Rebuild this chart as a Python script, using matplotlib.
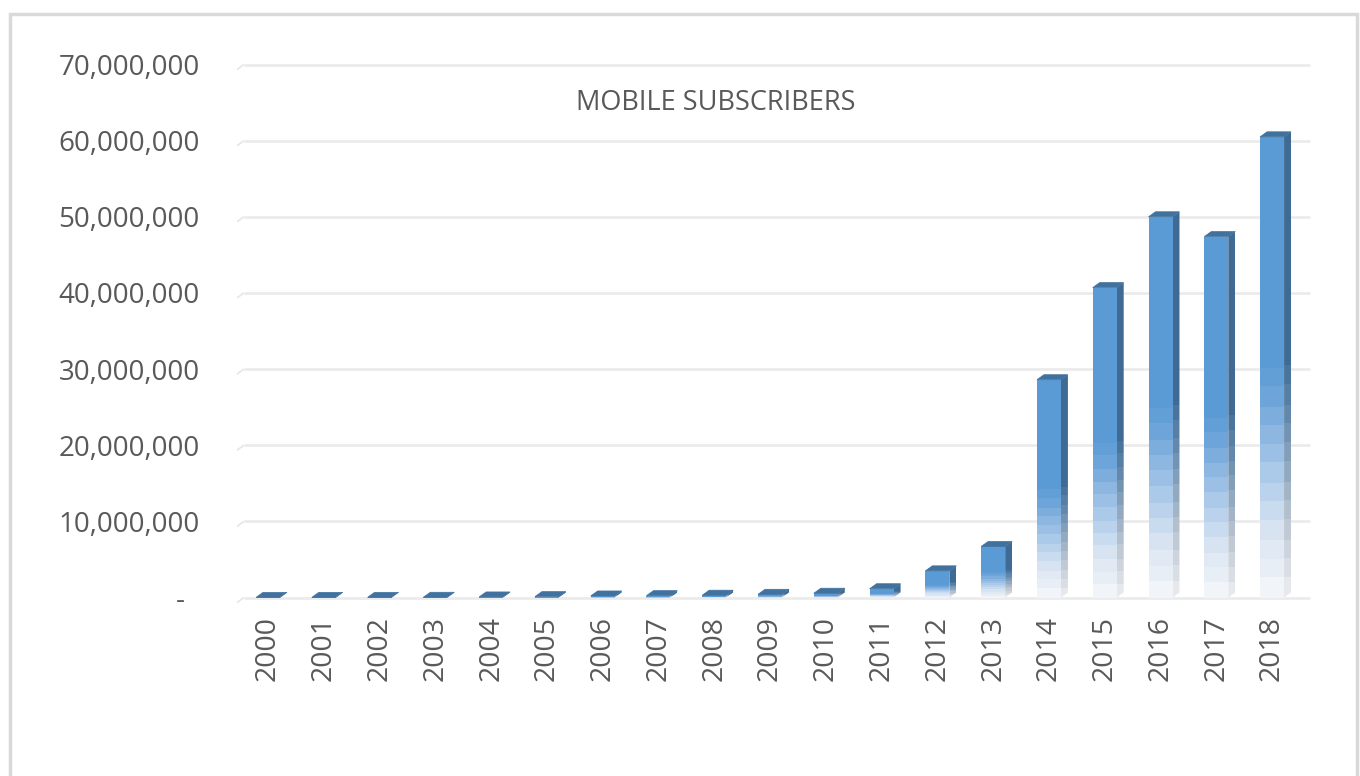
# Mobile subscribers 2000-2018, Excel-style 3D column chart with gradient fill

import numpy as np
import matplotlib.pyplot as plt
from matplotlib.patches import Rectangle, Polygon
from matplotlib.colors import LinearSegmentedColormap
from matplotlib.ticker import FuncFormatter

plt.rcParams['font.family'] = ['Open Sans', 'DejaVu Sans']

####################### data
years = ["2000", "2001", "2002", "2003", "2004", "2005", "2006", "2007", "2008", "2009",
         "2010", "2011", "2012", "2013", "2014", "2015", "2016", "2017", "2018"]
subscribers = [13000, 15000, 20000, 30000, 70000, 110000, 200000, 240000, 300000, 420000,
               560000, 1150000, 3500000, 6700000, 28600000, 40700000, 50000000, 47400000, 60500000]
y_ticks = [0, 10e6, 20e6, 30e6, 40e6, 50e6, 60e6, 70e6]
title = "MOBILE SUBSCRIBERS"

####################### style
grey_txt = "#595959"
front_cmap = LinearSegmentedColormap.from_list(
    "front", [(0.0, "#F1F4F9"), (0.25, "#D8E4F2"), (0.55, "#A3C4E7"),
              (0.85, "#6BA3D9"), (1.0, "#5B9BD5")])
side_cmap = LinearSegmentedColormap.from_list(
    "side", [(0.0, "#E6E8EC"), (0.3, "#B9C4D0"), (0.7, "#6D8FB0"), (1.0, "#3E6A94")])
top_col = "#41729F"

W = 0.43        # front face width (x units)
DX = 0.125      # depth to the right (x units)
DY = 0.66e6     # depth upward (y units)
FADE = 0.5      # lower fraction of bar that is graded
NSTEP = 12      # Excel-like banding

fig = plt.figure(figsize=(13.6, 7.76), dpi=100)
ax = fig.add_axes([237/1360, 1-597.5/776, (1310-237)/1360, (597.5-64.5)/776])

xmin, xmax = -0.556, 18.68
ymin, ymax = 0, 70e6

# gridlines on the back wall, short diagonal on the left like the 3D floor
for g in y_ticks:
    ax.plot([xmin, xmin+DX], [g-DY, g], color="#E6E6E6", lw=1.2, zorder=0,
            clip_on=False, solid_capstyle="butt")
    ax.plot([xmin+DX, xmax], [g, g], color="#EBEBEB", lw=2.0, zorder=0,
            clip_on=False, solid_capstyle="butt")


def grad_img(v, cmap):
    n = 200
    f = np.linspace(0, 1, n)
    t = np.clip(f/FADE, 0, 1)
    t = np.floor(t*NSTEP)/NSTEP
    return cmap(t)[:, None, :]


x = np.arange(len(years))
for xi, v in zip(x, subscribers):
    x0 = xi - W/2
    x1 = xi + W/2
    # front face
    rect = Rectangle((x0, 0), W, v, facecolor="none", edgecolor="none")
    ax.add_patch(rect)
    im = ax.imshow(grad_img(v, front_cmap), extent=[x0, x1, 0, v], origin="lower",
                   aspect="auto", zorder=2, interpolation="nearest")
    im.set_clip_path(rect)
    # side face
    side = Polygon([(x1, 0), (x1, v), (x1+DX, v+DY), (x1+DX, DY)],
                   closed=True, facecolor="none", edgecolor="none")
    ax.add_patch(side)
    ims = ax.imshow(grad_img(v, side_cmap), extent=[x1, x1+DX, 0, v+DY], origin="lower",
                    aspect="auto", zorder=2, interpolation="nearest")
    ims.set_clip_path(side)
    # top face
    top = Polygon([(x0, v), (x1, v), (x1+DX, v+DY), (x0+DX, v+DY)],
                  closed=True, facecolor=top_col, edgecolor=top_col, lw=0.5, zorder=3)
    ax.add_patch(top)

ax.set_xlim(xmin, xmax)
ax.set_ylim(ymin, ymax)

ax.set_xticks(x)
ax.set_xticklabels(years, rotation=90, fontsize=20.5, color=grey_txt)
ax.set_yticks(y_ticks)
ax.yaxis.set_major_formatter(FuncFormatter(lambda v, p: "-  " if v == 0 else f"{v:,.0f}"))
ax.tick_params(axis="y", length=0, pad=27, labelsize=20, labelcolor=grey_txt)
ax.tick_params(axis="x", length=0, pad=13)
for s in ax.spines.values():
    s.set_visible(False)
ax.patch.set_alpha(0)

fig.text(716/1360, 1-103/776, title, ha="center", va="center", fontsize=19.5, color=grey_txt)

# outer chart frame
fig.patches.append(Rectangle((10/1360, -0.1), (1357-10)/1360, 1.1-14/776,
                             transform=fig.transFigure, fill=False,
                             edgecolor="#D9D9D9", lw=2.5))

plt.savefig("out.png", dpi=100)
